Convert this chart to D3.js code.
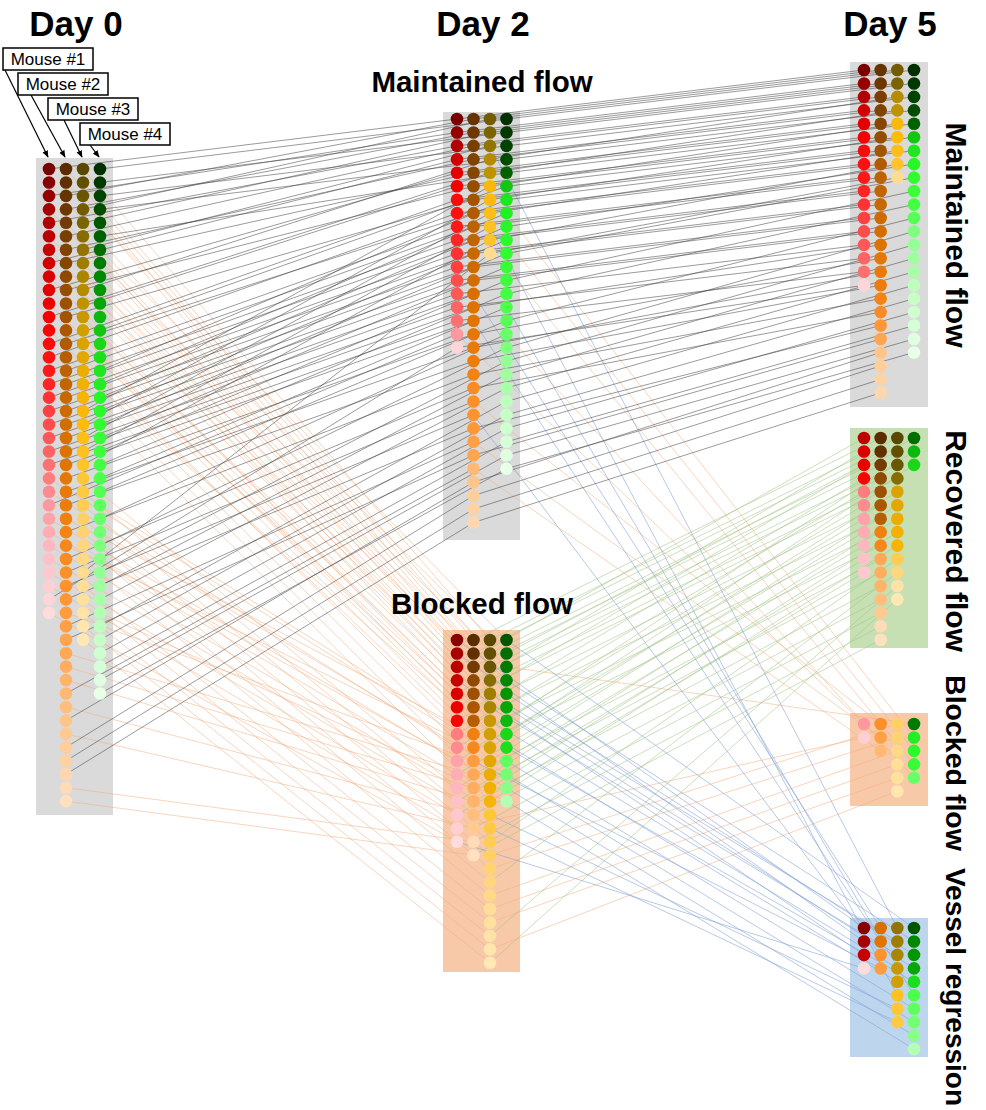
<!DOCTYPE html>
<html><head><meta charset="utf-8">
<script src="https://cdn.jsdelivr.net/npm/d3@7"></script>
<style>
body{margin:0;background:#fff}
svg{display:block;font-family:Arial,"Liberation Sans",sans-serif}
</style>
</head><body>
<svg id="chart" width="986" height="1110"></svg>
<script>
// ---- data -------------------------------------------------------------
const mice = ["Mouse #1", "Mouse #2", "Mouse #3", "Mouse #4"];
const dayLabels = ["Day 0", "Day 2", "Day 5"];
const day2Names = ["Maintained flow", "Blocked flow"];
const day5Names = ["Maintained flow", "Recovered flow", "Blocked flow", "Vessel regression"];

// Fate of every vessel, one letter per vessel in Day 0 order.
// M = maintained flow, B = blocked flow, R = recovered flow, V = vessel regression
const mouse1Day2 = "MBMBMBBMBMBMBMMMMMMMMMMBBMBBBBBBMB";
const mouse1Day5 = "MVMVMRVMRMRMRMMMMMMMMMMRRBRRRRRBMV";
const mouse2Day2 = "BBMMBMMMBMBMBMBMMMMMMMMMMMBMBMMMMBMMBBBMBMBMMMBB";
const mouse2Day5 = "RRMMRMMMRMRMRMRMMMMMVMVMMMRMRMBVMVBMRRRBRMRMMMRR";
const mouse3Day2 = "BBBMMBMBBMMBBBBBBBMMMMMBBBBBBBMBBBBB";
const mouse3Day5 = "RRRMMRVVVMMVVRRRRRMMMVMVVRBBRBMBBRBR";
const mouse4Day2 = "MMMMBMBBBBBBMBBMMMMMMMMMMBMBMBMMMBMMMMMM";
const mouse4Day5 = "MMMMVMRBVVVRMRVMBMBMBMMVMVBVMVMMMVMMMMMM";

// ---- styling ----------------------------------------------------------
const palettes = [
  ["#7a0000", "#b00000", "#d40000", "#f40000", "#ff1414", "#ff4444", "#ff7070", "#ffa0a8", "#ffc4cc", "#ffdcdc"],
  ["#5a2c00", "#7a4000", "#a05200", "#c06400", "#dc7200", "#f08010", "#ff9430", "#ffac5c", "#ffc890", "#ffe0c0"],
  ["#5a4800", "#7a6200", "#a88400", "#d09c00", "#f0b000", "#ffbc10", "#ffc838", "#ffd478", "#ffdf98", "#ffe8b4"],
  ["#003000", "#005800", "#009000", "#18d818", "#28f828", "#40ff40", "#68ff68", "#98ff98", "#c4ffc4", "#e8ffe8"]
];
const lineColor = { M: "#404040", B: "#f2ae80", R: "#a3c68a", V: "#86a4d6" };
const lineOpacity = { M: 0.75, B: 0.75, R: 0.8, V: 0.85 };
const boxFill = { M: "#dadada", B: "#f7c9a9", R: "#c6e0b4", V: "#bdd6ee" };

const ROW = 13.45, R_DOT = 6.3;

// column layout of each day and box / first-row placement of each group
const dayCols = { d0: [49, 100], d2: [457, 506.5], d5: [864, 914] };
const boxX = { d0: [36, 113], d2: [443, 520], d5: [850, 928] };
const groups = [
  { key: "d0", state: "all", y0: 169, box: [158, 815] },
  { key: "d2", state: "M", y0: 119, box: [112, 540] },
  { key: "d2", state: "B", y0: 640, box: [630, 972] },
  { key: "d5", state: "M", y0: 70, box: [62, 407] },
  { key: "d5", state: "R", y0: 438, box: [428, 648] },
  { key: "d5", state: "B", y0: 724, box: [713, 806] },
  { key: "d5", state: "V", y0: 928, box: [918, 1057] }
];

// ---- build vessel records ---------------------------------------------
const fates = [
  [mouse1Day2, mouse1Day5], [mouse2Day2, mouse2Day5],
  [mouse3Day2, mouse3Day5], [mouse4Day2, mouse4Day5]
];
const vessels = [];
fates.forEach(([f2, f5], m) => {
  const n = f2.length;
  const pal = palettes[m];
  const color = d3.scaleLinear()
    .domain(d3.range(pal.length).map(i => i / (pal.length - 1)))
    .range(pal).interpolate(d3.interpolateRgb);
  for (let i = 0; i < n; i++) {
    vessels.push({
      mouse: mice[m], id: i, color: color(i / (n - 1)),
      fate: { d0: "all", d2: f2[i], d5: f5[i] }, pos: {}
    });
  }
});

const xScale = {};
Object.keys(dayCols).forEach(k => {
  xScale[k] = d3.scalePoint().domain(mice).range(dayCols[k]);
});

// position of each vessel inside each group, kept in Day 0 order
groups.forEach(g => {
  const y = d3.scaleLinear().domain([0, 1]).range([g.y0, g.y0 + ROW]);
  mice.forEach(mouse => {
    vessels
      .filter(v => v.mouse === mouse && v.fate[g.key] === g.state)
      .sort((a, b) => a.id - b.id)
      .forEach((v, k) => { v.pos[g.key] = { x: xScale[g.key](mouse), y: y(k) }; });
  });
});

const svg = d3.select("#chart");

// ---- boxes ------------------------------------------------------------
svg.append("g").selectAll("rect").data(groups).join("rect")
  .attr("x", d => boxX[d.key][0])
  .attr("y", d => d.box[0])
  .attr("width", d => boxX[d.key][1] - boxX[d.key][0])
  .attr("height", d => d.box[1] - d.box[0])
  .attr("fill", d => d.state === "all" ? boxFill.M : boxFill[d.state]);

// ---- links ------------------------------------------------------------
const links = [];
vessels.forEach(v => {
  links.push({ a: v.pos.d0, b: v.pos.d2, state: v.fate.d2 });
  links.push({ a: v.pos.d2, b: v.pos.d5, state: v.fate.d5 });
});
const order = { B: 0, R: 1, V: 2, M: 3 };
links.sort((p, q) => order[p.state] - order[q.state]);
svg.append("g").selectAll("line").data(links).join("line")
  .attr("x1", d => d.a.x).attr("y1", d => d.a.y)
  .attr("x2", d => d.b.x).attr("y2", d => d.b.y)
  .attr("stroke", d => lineColor[d.state])
  .attr("stroke-width", 0.7)
  .attr("stroke-opacity", d => lineOpacity[d.state]);

// ---- dots -------------------------------------------------------------
const dotLayer = svg.append("g");
["d0", "d2", "d5"].forEach(k => {
  dotLayer.append("g").selectAll("circle").data(vessels).join("circle")
    .attr("cx", d => d.pos[k].x).attr("cy", d => d.pos[k].y)
    .attr("r", R_DOT).attr("fill", d => d.color);
});

// ---- titles -----------------------------------------------------------
const dayX = d3.scalePoint().domain(dayLabels).range([76, 890]);
svg.append("g").selectAll("text").data(dayLabels).join("text")
  .attr("x", d => dayX(d)).attr("y", 36)
  .attr("text-anchor", "middle")
  .attr("font-size", 35).attr("font-weight", "bold")
  .text(d => d);

svg.append("g").selectAll("text").data(day2Names).join("text")
  .attr("x", 482).attr("y", (d, i) => [92, 614][i])
  .attr("text-anchor", "middle")
  .attr("font-size", 29.5).attr("font-weight", "bold")
  .text(d => d);

const rightY = [235, 541, 763, 987];
const rightSize = [30, 30, 28.5, 28];
svg.append("g").selectAll("text").data(day5Names).join("text")
  .attr("transform", (d, i) => `translate(946,${rightY[i]}) rotate(90)`)
  .attr("text-anchor", "middle")
  .attr("font-size", (d, i) => rightSize[i]).attr("font-weight", "bold")
  .text(d => d);

// ---- mouse call-outs --------------------------------------------------
svg.append("defs").append("marker")
  .attr("id", "arrow").attr("viewBox", "0 0 10 10")
  .attr("refX", 9).attr("refY", 5)
  .attr("markerWidth", 6).attr("markerHeight", 6)
  .attr("orient", "auto-start-reverse")
  .append("path").attr("d", "M0,1 L10,5 L0,9 z").attr("fill", "#000");

const callBox = [[3, 48], [18, 73], [48, 98], [80, 123]];
const callFrom = [[5, 70], [31, 95], [64, 120], [90, 145]];
const callout = svg.append("g");
mice.forEach((m, i) => {
  const [bx, by] = callBox[i];
  callout.append("line")
    .attr("x1", callFrom[i][0]).attr("y1", callFrom[i][1])
    .attr("x2", xScale.d0(m) - 1).attr("y2", 157)
    .attr("stroke", "#000").attr("stroke-width", 1.2)
    .attr("marker-end", "url(#arrow)");
  callout.append("rect")
    .attr("x", bx).attr("y", by).attr("width", 90).attr("height", 22)
    .attr("fill", "#fff").attr("stroke", "#000").attr("stroke-width", 1.5);
  callout.append("text")
    .attr("x", bx + 45).attr("y", by + 17)
    .attr("text-anchor", "middle").attr("font-size", 17)
    .text(m);
});
</script>
</body></html>
